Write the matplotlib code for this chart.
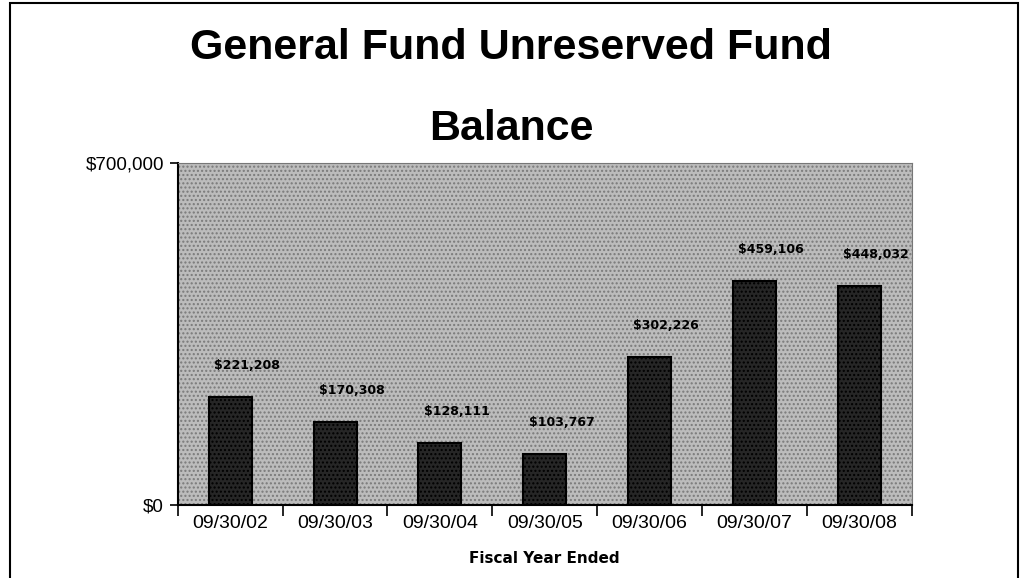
import matplotlib
matplotlib.use("Agg")
import matplotlib.pyplot as plt
from matplotlib.patches import Rectangle
import numpy as np

# data
years = ["09/30/02", "09/30/03", "09/30/04", "09/30/05", "09/30/06", "09/30/07", "09/30/08"]
balance = [221208, 170308, 128111, 103767, 302226, 459106, 448032]

plt.rcParams['font.family'] = ['Liberation Sans', 'DejaVu Sans']

fig = plt.figure(figsize=(10.22, 5.78), dpi=100)
ax = fig.add_axes([0.174, 0.126, 0.718, 0.592])

x = np.arange(len(years))
ax.set_facecolor('#bcbcbc')
# rough texture on the plot area
ax.add_patch(Rectangle((0, 0), 1, 1, transform=ax.transAxes, facecolor='none',
                       edgecolor='#7a7a7a', hatch='....', linewidth=0, zorder=0))
bars = ax.bar(x, balance, width=0.41, color='#262626', edgecolor='black',
              linewidth=1.5, hatch='....', zorder=2)
for b in bars:
    b.set_edgecolor('black')

for xi, v in zip(x, balance):
    ax.annotate("${:,.0f}".format(v), (xi, v), xytext=(12, 18), textcoords='offset points',
                ha='center', va='bottom', fontsize=9, fontweight='bold',
                family=['DejaVu Sans Condensed', 'DejaVu Sans'], zorder=3)

ax.set_xlim(-0.5, len(years) - 0.5)
ax.set_ylim(0, 700000)
ax.set_yticks([0, 700000])
ax.set_yticklabels(["$0", "$700,000"], fontsize=13.5)
ax.set_xticks(x)
ax.set_xticklabels(years, fontsize=14, family=['Liberation Sans Narrow', 'Liberation Sans'])
ax.tick_params(axis='x', length=0, pad=7)
ax.set_xticks(np.arange(-0.5, len(years)), minor=True)
ax.tick_params(axis='x', which='minor', length=8, direction='out', width=1.2)
ax.tick_params(axis='y', length=6, direction='out', width=1.2, pad=4)

for s in ['top', 'right']:
    ax.spines[s].set_visible(True)
    ax.spines[s].set_linewidth(0.8)
    ax.spines[s].set_color('#777777')
ax.spines['left'].set_linewidth(1.5)
ax.spines['bottom'].set_linewidth(1.5)

ax.set_xlabel("Fiscal Year Ended", fontsize=11, fontweight='bold', labelpad=14,
              family=['DejaVu Sans'])

fig.text(0.5, 0.847, "General Fund Unreserved Fund\nBalance", ha='center', va='center',
         fontsize=31, fontweight='bold', linespacing=2.3)

# outer frame of the page
fig.patches.append(Rectangle((10 / 1022, -0.05), 1008 / 1022, 1.05 - 3 / 578,
                             transform=fig.transFigure, fill=False,
                             edgecolor='black', linewidth=1.5))

fig.savefig("out.png", dpi=100)
